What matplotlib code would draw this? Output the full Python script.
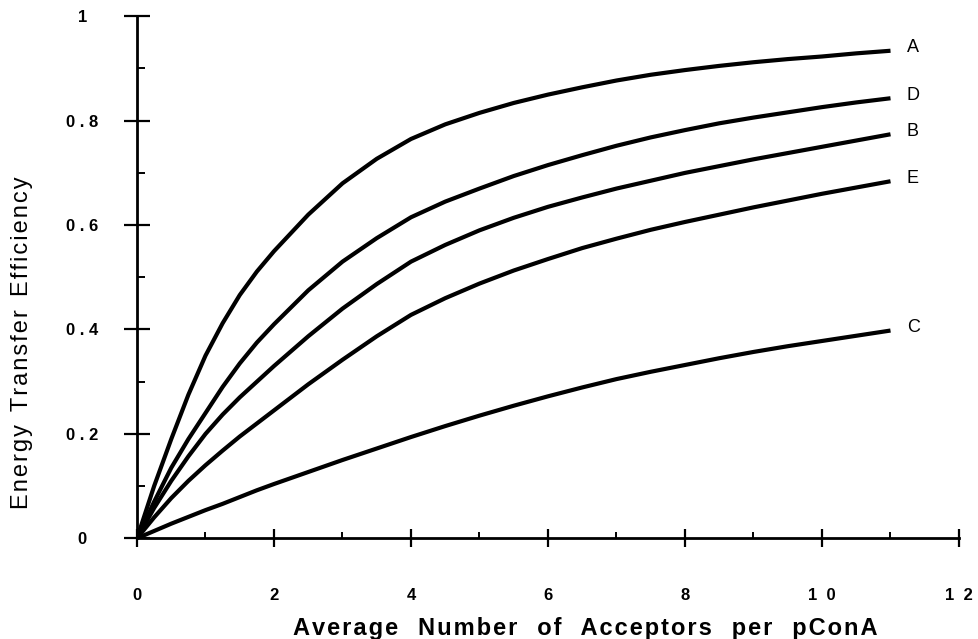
import matplotlib
matplotlib.use("Agg")
import matplotlib.pyplot as plt
from matplotlib.ticker import MultipleLocator

plt.rcParams["font.family"] = ["Liberation Sans", "DejaVu Sans"]

# --- data ---
acceptors = [0, 0.25, 0.5, 0.75, 1, 1.25, 1.5, 1.75, 2, 2.5, 3, 3.5, 4, 4.5,
             5, 5.5, 6, 6.5, 7, 7.5, 8, 8.5, 9, 9.5, 10, 10.5, 11]
curve_a = [0, 0.10, 0.19, 0.275, 0.35, 0.412, 0.466, 0.511, 0.55, 0.62, 0.68, 0.727,
           0.765, 0.793, 0.815, 0.834, 0.85, 0.864, 0.877, 0.888, 0.897, 0.905,
           0.912, 0.918, 0.923, 0.929, 0.934]
curve_d = [0, 0.07, 0.135, 0.19, 0.24, 0.29, 0.335, 0.375, 0.41, 0.475, 0.53, 0.575,
           0.615, 0.645, 0.67, 0.694, 0.715, 0.734, 0.752, 0.768, 0.782, 0.795,
           0.806, 0.816, 0.826, 0.835, 0.843]
curve_b = [0, 0.058, 0.11, 0.157, 0.20, 0.237, 0.27, 0.30, 0.33, 0.387, 0.44, 0.487,
           0.53, 0.562, 0.59, 0.614, 0.635, 0.653, 0.67, 0.685, 0.70, 0.713,
           0.726, 0.738, 0.75, 0.762, 0.774]
curve_e = [0, 0.04, 0.077, 0.11, 0.14, 0.168, 0.195, 0.22, 0.245, 0.295, 0.342, 0.387,
           0.428, 0.46, 0.488, 0.513, 0.535, 0.556, 0.574, 0.591, 0.606, 0.62,
           0.634, 0.647, 0.66, 0.672, 0.684]
curve_c = [0, 0.014, 0.028, 0.041, 0.054, 0.066, 0.079, 0.092, 0.104, 0.127, 0.15, 0.172,
           0.194, 0.215, 0.235, 0.254, 0.272, 0.289, 0.305, 0.319, 0.332, 0.345,
           0.357, 0.368, 0.378, 0.388, 0.398]

curve_names = ["A", "D", "B", "E", "C"]
curves = [curve_a, curve_d, curve_b, curve_e, curve_c]

x_ticks = [0, 2, 4, 6, 8, 10, 12]
x_tick_labels = ["0", "2", "4", "6", "8", "1  0", "1  2"]
y_ticks = [0, 0.2, 0.4, 0.6, 0.8, 1.0]
y_tick_labels = ["0", "0 . 2", "0 . 4", "0 . 6", "0 . 8", "1"]


def spaced(text):
    # old typeset look: a little air between letters
    return "\u200a".join(text)


fig = plt.figure(figsize=(9.79, 6.39), dpi=100)
ax = fig.add_axes([137 / 979, (639 - 538.3) / 639, 822 / 979, 522 / 639])

for name, ys in zip(curve_names, curves):
    ax.plot(acceptors, ys, color="black", linewidth=3.0,
            solid_capstyle="butt", solid_joinstyle="round")
    ax.text(acceptors[-1] + 0.24, ys[-1] + 0.006, name, fontsize=13,
            ha="left", va="center")

ax.set_xlim(0, 12)
ax.set_ylim(0, 1)

for side in ("top", "right"):
    ax.spines[side].set_visible(False)
for side in ("left", "bottom"):
    ax.spines[side].set_linewidth(2.0)

ax.set_xticks(x_ticks)
ax.set_xticklabels(x_tick_labels, fontsize=12, fontweight="bold")
ax.set_yticks(y_ticks)
ax.set_yticklabels(y_tick_labels, fontsize=12, fontweight="bold", ha="center")
ax.xaxis.set_minor_locator(MultipleLocator(1))
ax.yaxis.set_minor_locator(MultipleLocator(0.1))

ax.tick_params(axis="x", which="major", direction="inout", length=13, width=1.6, pad=29)
ax.tick_params(axis="x", which="minor", direction="in", length=4, width=1.4)
ax.tick_params(axis="y", which="major", direction="inout", length=19, width=1.6, pad=30)
ax.tick_params(axis="y", which="minor", direction="in", length=6, width=1.4)
for t in ax.xaxis.get_major_ticks() + ax.yaxis.get_major_ticks():
    t.tick1line.set_clip_on(False)

xlabel = "   ".join(spaced(w) for w in ["Average", "Number", "of", "Acceptors", "per", "pConA"])
fig.text(585 / 979, 1 - 628 / 639, xlabel,
         fontsize=17, fontweight="bold", ha="center", va="center")
ylabel = "  ".join(spaced(w) for w in ["Energy", "Transfer", "Efficiency"])
fig.text(22 / 979, 1 - 343 / 639, ylabel,
         fontsize=17, rotation=90, ha="center", va="center")

fig.savefig("out.png", dpi=100)
